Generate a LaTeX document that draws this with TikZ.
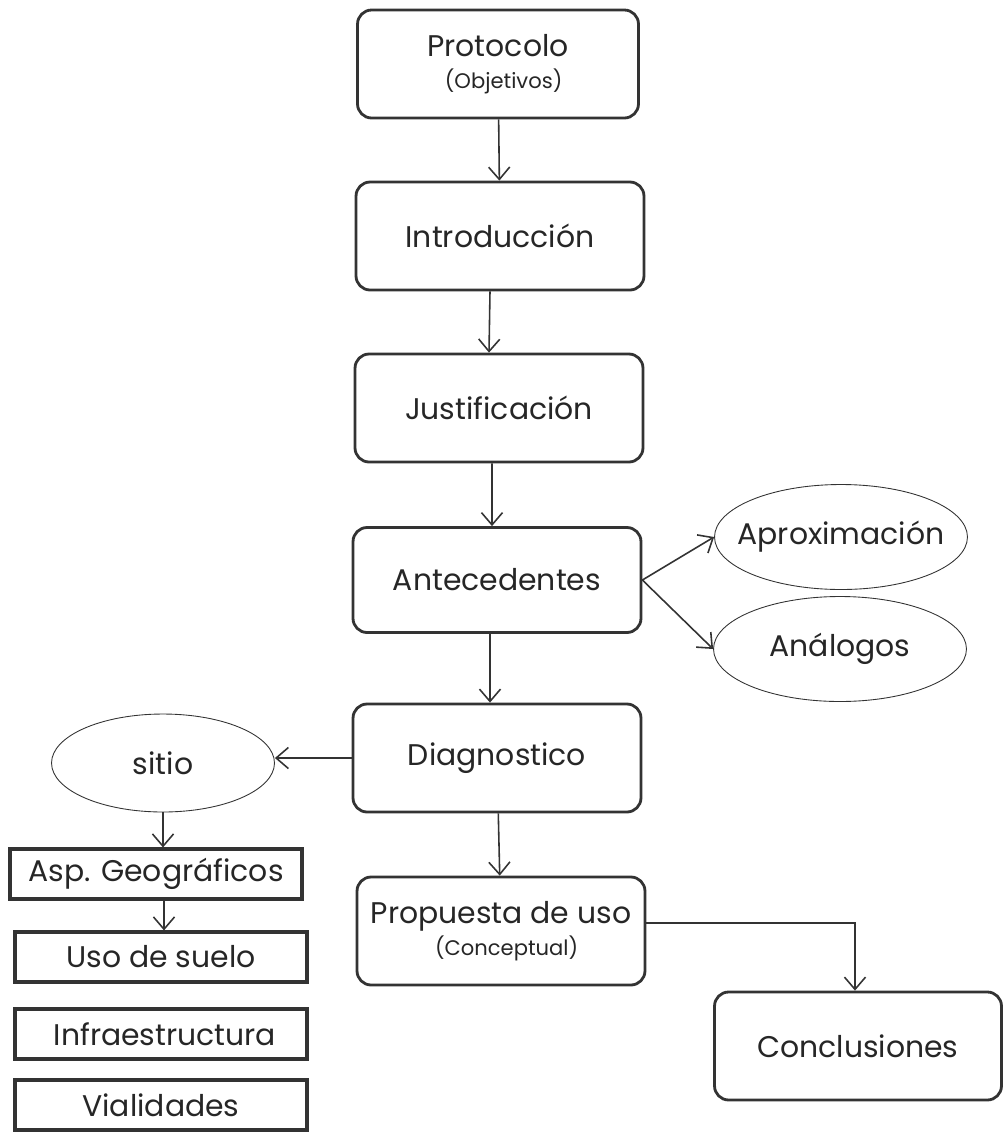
\documentclass[tikz,border=0pt]{standalone}
\usepackage{fontspec}
\setmainfont{Poppins}
\usetikzlibrary{shapes.geometric,arrows.meta}
\definecolor{ink}{HTML}{333333}
\begin{document}
\begin{tikzpicture}[x=0.02cm, y=-0.02cm]
	\tikzstyle{every node}=[inner sep=1pt, align=center, text=black!85, font=\fontsize{17}{21}\selectfont]
	\tikzstyle{paso}=[draw=ink, line width=1.6pt, rounded corners=8pt, minimum width=5.76cm, minimum height=2.16cm]
	\tikzstyle{elipse}=[draw=ink, line width=0.5pt, ellipse, inner xsep=-0.4cm, minimum width=5.06cm, minimum height=2.1cm]
	\tikzstyle{caja}=[draw=ink, line width=1.8pt, minimum width=5.84cm, minimum height=1cm]
	\tikzstyle{flecha}=[draw=ink, line width=0.9pt, -{Straight Barb[length=7pt, width=12pt]}]
	\useasboundingbox (0,0) rectangle (1006,1134);
	% columna central
	\node[paso, minimum width=5.62cm] (P) at (498, 64) {Protocolo\\[-3pt]{\fontsize{12}{15}\selectfont\ \ (Objetivos)}};
	\node[paso] (I) at (500, 236) {Introducción};
	\node[paso] (J) at (499, 408) {Justificación};
	\node[paso, minimum height=2.1cm] (A) at (497, 580) {Antecedentes};
	\node[paso] (D) at (497, 758) {Diagnostico};
	\node[paso] (U) at (501, 931) {Propuesta de uso\\[-3pt]{\fontsize{12}{15}\selectfont\ \ (Conceptual)}};
	\node[paso, minimum width=5.74cm] (C) at (858, 1046) {Conclusiones};
	% ramas
	\node[elipse] (Ap) at (841, 537) {Aproximación};
	\node[elipse] (An) at (840, 649) {Análogos};
	\node[elipse, minimum width=4.46cm, minimum height=1.96cm] (S) at (163, 763) {sitio};
	\node[caja] (G) at (156, 874) {Asp. Geográficos};
	\node[caja] (Su) at (161, 957) {Uso de suelo};
	\node[caja] (In) at (161, 1034) {\ Infraestructura};
	\node[caja] (V) at (161, 1105) {Vialidades};
	\coordinate (k) at (855, 923);
	\draw[flecha] (P) -- (I);
	\draw[flecha] ([xshift=-0.2cm]I.south) -- ([xshift=-0.2cm]J.north);
	\draw[flecha] ([xshift=-0.14cm]J.south) -- ([xshift=-0.1cm]A.north);
	\draw[flecha] ([xshift=-0.14cm]A.south) -- ([xshift=-0.14cm]D.north);
	\draw[flecha] (D) -- (U);
	\draw[flecha] (A.east) -- (Ap.west);
	\draw[flecha] (A.east) -- (An.west);
	\draw[flecha] (D.west) -- (D.west -| S.east);
	\draw[flecha] (S.south) -- (S.south |- G.north);
	\draw[flecha] ([xshift=0.16cm]G.south) -- ([xshift=0.16cm]G.south |- Su.north);
	\draw[flecha] (U.east |- k) -- (k) -- (C.north -| k);
\end{tikzpicture}
\end{document}
